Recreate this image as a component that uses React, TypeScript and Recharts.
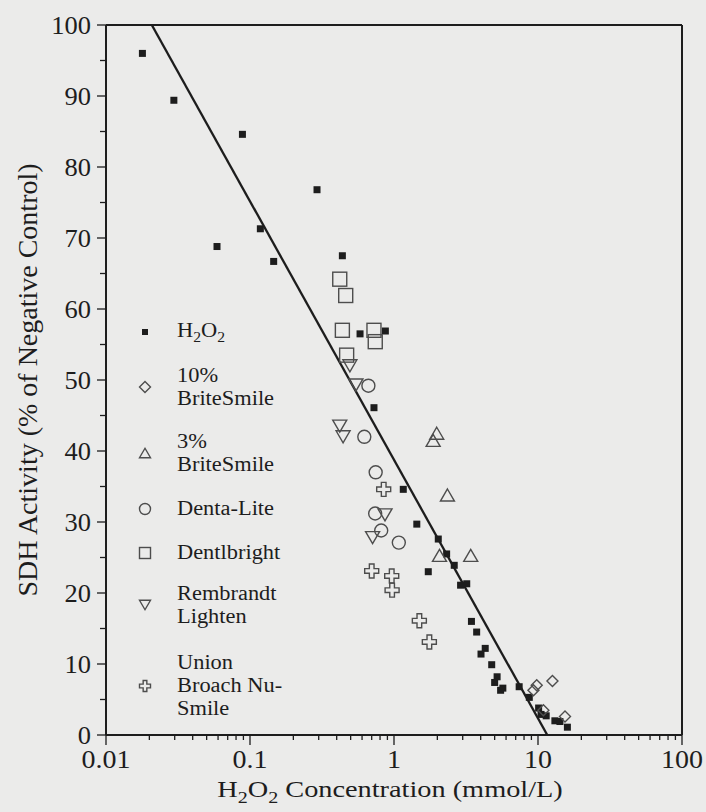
import { ScatterChart, Scatter, XAxis, YAxis, ReferenceLine, Legend } from "recharts"

// H2O2 concentration (mmol/L) vs SDH activity (% of negative control)
const h2o2 = [
  { x: 0.0179, y: 96.0 }, { x: 0.0296, y: 89.4 }, { x: 0.0886, y: 84.6 }, { x: 0.292, y: 76.8 },
  { x: 0.118, y: 71.3 }, { x: 0.059, y: 68.8 }, { x: 0.146, y: 66.7 }, { x: 0.438, y: 67.5 },
  { x: 0.581, y: 56.5 }, { x: 0.871, y: 56.9 }, { x: 0.726, y: 46.1 }, { x: 1.16, y: 34.6 },
  { x: 1.44, y: 29.7 }, { x: 2.03, y: 27.6 }, { x: 1.73, y: 23.0 }, { x: 2.32, y: 25.5 },
  { x: 2.62, y: 23.9 }, { x: 2.9, y: 21.1 }, { x: 3.2, y: 21.3 }, { x: 3.45, y: 16.0 },
  { x: 3.75, y: 14.5 }, { x: 4.3, y: 12.2 }, { x: 4.02, y: 11.4 }, { x: 4.77, y: 9.9 },
  { x: 5.2, y: 8.2 }, { x: 5.0, y: 7.4 }, { x: 5.7, y: 6.6 }, { x: 5.5, y: 6.3 },
  { x: 7.4, y: 6.8 }, { x: 8.7, y: 5.3 }, { x: 10.1, y: 3.8 }, { x: 10.5, y: 2.9 },
  { x: 11.4, y: 2.7 }, { x: 13.1, y: 2.0 }, { x: 14.2, y: 1.9 }, { x: 16.0, y: 1.1 },
]
const brite10 = [
  { x: 9.3, y: 6.3 }, { x: 9.8, y: 7.0 }, { x: 12.6, y: 7.6 }, { x: 10.9, y: 3.5 }, { x: 15.4, y: 2.6 },
]
const brite3 = [
  { x: 1.87, y: 41.5 }, { x: 1.98, y: 42.5 }, { x: 2.35, y: 33.8 }, { x: 2.07, y: 25.3 }, { x: 3.41, y: 25.3 },
]
const dentaLite = [
  { x: 0.664, y: 49.2 }, { x: 0.622, y: 42.0 }, { x: 0.746, y: 37.0 }, { x: 0.74, y: 31.2 },
  { x: 0.815, y: 28.8 }, { x: 1.08, y: 27.1 },
]
const dentlbright = [
  { x: 0.42, y: 64.2 }, { x: 0.462, y: 61.9 }, { x: 0.438, y: 57.0 }, { x: 0.726, y: 57.0 },
  { x: 0.741, y: 55.4 }, { x: 0.469, y: 53.5 },
]
const rembrandt = [
  { x: 0.494, y: 52.0 }, { x: 0.544, y: 49.3 }, { x: 0.42, y: 43.5 }, { x: 0.443, y: 42.0 },
  { x: 0.866, y: 31.0 }, { x: 0.71, y: 27.8 },
]
const unionBroach = [
  { x: 0.848, y: 34.6 }, { x: 0.7, y: 23.1 }, { x: 0.964, y: 22.4 }, { x: 0.97, y: 20.4 },
  { x: 1.5, y: 16.1 }, { x: 1.76, y: 13.1 },
]
// regression line end points
const fitLine = [{ x: 0.0208, y: 100 }, { x: 11.6, y: 0 }]

const xMajorTicks = [0.01, 0.1, 1, 10, 100]
const xMinorSteps = [2, 3, 4, 5, 6, 7, 8, 9]
const xTicks = [
  ...xMajorTicks,
  ...xMajorTicks.slice(0, 4).flatMap((d) => xMinorSteps.map((m) => +(d * m).toPrecision(3))),
]
const yTicks = [0, 5, 10, 15, 20, 25, 30, 35, 40, 45, 50, 55, 60, 65, 70, 75, 80, 85, 90, 95, 100]

const legendItems = [
  { kind: "fsquare", lines: ["H2O2"] },
  { kind: "diamond", lines: ["10%", "BriteSmile"] },
  { kind: "up", lines: ["3%", "BriteSmile"] },
  { kind: "circle", lines: ["Denta-Lite"] },
  { kind: "square", lines: ["Dentlbright"] },
  { kind: "down", lines: ["Rembrandt", "Lighten"] },
  { kind: "cross", lines: ["Union", "Broach Nu-", "Smile"] },
]
const legendTops = [0, 45, 111, 178, 222, 263, 332]

const INK = "#1d1d1d"
const OPEN = "#4d4d4d"
const FONT = "'Liberation Serif', 'Times New Roman', serif"

function marker(kind: string, cx: number, cy: number, s: number) {
  const h = s / 2
  const sw = 1.4
  switch (kind) {
    case "fsquare":
      return <rect x={cx - h} y={cy - h} width={s} height={s} fill={INK} />
    case "diamond":
      return <path d={`M${cx},${cy - h}L${cx + h},${cy}L${cx},${cy + h}L${cx - h},${cy}Z`} fill="none" stroke={OPEN} strokeWidth={sw} />
    case "up": {
      const t = s * 0.43
      return <path d={`M${cx},${cy - t}L${cx + h},${cy + t}L${cx - h},${cy + t}Z`} fill="none" stroke={OPEN} strokeWidth={sw} />
    }
    case "down": {
      const t = s * 0.43
      return <path d={`M${cx - h},${cy - t}L${cx + h},${cy - t}L${cx},${cy + t}Z`} fill="none" stroke={OPEN} strokeWidth={sw} />
    }
    case "circle":
      return <circle cx={cx} cy={cy} r={h} fill="none" stroke={OPEN} strokeWidth={sw} />
    case "square":
      return <rect x={cx - h} y={cy - h} width={s} height={s} fill="none" stroke={OPEN} strokeWidth={sw} />
    case "cross": {
      const a = s / 6
      const d = `M${cx - a},${cy - h}H${cx + a}V${cy - a}H${cx + h}V${cy + a}H${cx + a}V${cy + h}H${cx - a}V${cy + a}H${cx - h}V${cy - a}H${cx - a}Z`
      return <path d={d} fill="none" stroke={OPEN} strokeWidth={sw} />
    }
  }
  return <g />
}

const shapeOf = (kind: string, s: number) => (p: any) => marker(kind, p.cx, p.cy, s)

function XTick({ x, y, payload }: any) {
  const major = xMajorTicks.includes(payload.value)
  return (
    <g>
      <line x1={x} x2={x} y1={y} y2={y + (major ? 10 : 5)} stroke={INK} strokeWidth={1.3} />
      {major && (
        <text transform={`translate(${x},${y + 33}) scale(1.12,1)`} textAnchor="middle" fontFamily={FONT} fontSize={25} fill={INK}>
          {payload.value}
        </text>
      )}
    </g>
  )
}

function YTick({ x, y, payload }: any) {
  const major = payload.value % 10 === 0
  return (
    <g>
      <line x1={x} x2={x - (major ? 9 : 6)} y1={y} y2={y} stroke={INK} strokeWidth={1.3} />
      {major && (
        <text transform={`translate(${x - 15},${y}) scale(1.06,1)`} dy="0.35em" textAnchor="end" fontFamily={FONT} fontSize={25} fill={INK}>
          {payload.value}
        </text>
      )}
    </g>
  )
}

function XTitle({ viewBox }: any) {
  const cx = viewBox.x + viewBox.width / 2 - 4
  return (
    <text transform={`translate(${cx},${viewBox.y + 62}) scale(1.18,1)`} textAnchor="middle" fontFamily={FONT} fontSize={24} fill={INK}>
      H<tspan dy={6} fontSize={17}>2</tspan>
      <tspan dy={-6}>O</tspan>
      <tspan dy={6} fontSize={17}>2</tspan>
      <tspan dy={-6}> Concentration (mmol/L)</tspan>
    </text>
  )
}

function YTitle({ viewBox }: any) {
  const x = 37
  const y = viewBox.y + viewBox.height / 2
  return (
    <text x={x} y={y} transform={`rotate(-90 ${x} ${y})`} textAnchor="middle" fontFamily={FONT} fontSize={28} fill={INK}>
      SDH Activity (% of Negative Control)
    </text>
  )
}

function LegendLine({ text }: { text: string }) {
  if (text === "H2O2") {
    const sub = { fontSize: 14, position: "relative" as const, top: 5 }
    return (
      <div>
        H<span style={sub}>2</span>O<span style={sub}>2</span>
      </div>
    )
  }
  return <div>{text}</div>
}

function renderLegend() {
  return (
    <div style={{ position: "relative", fontFamily: FONT, fontSize: 20, lineHeight: "23px", color: INK }}>
      {legendItems.map((item, i) => (
        <div key={item.kind} style={{ position: "absolute", top: legendTops[i], left: 0, display: "flex", alignItems: "center", whiteSpace: "nowrap" }}>
          <svg width={20} height={20} style={{ marginRight: 22 }}>
            {marker(item.kind, 10, 10, item.kind === "fsquare" ? 6 : 11)}
          </svg>
          <div style={{ transform: "scaleX(1.12)", transformOrigin: "left center" }}>
            {item.lines.map((l) => (
              <LegendLine key={l} text={l} />
            ))}
          </div>
        </div>
      ))}
    </div>
  )
}

export default function App() {
  return (
    <div style={{ position: "absolute", left: 0, top: 0, width: 706, height: 812, background: "#ebebea" }}>
      <ScatterChart width={706} height={812} margin={{ top: 25, right: 24, bottom: 0, left: 0 }}>
        <XAxis
          dataKey="x"
          type="number"
          scale="log"
          domain={[0.01, 100]}
          allowDataOverflow
          ticks={xTicks}
          interval={0}
          height={77}
          tickSize={0}
          tickMargin={0}
          tickLine={false}
          tick={<XTick />}
          axisLine={{ stroke: INK, strokeWidth: 2 }}
          label={<XTitle />}
        />
        <YAxis
          dataKey="y"
          type="number"
          domain={[0, 100]}
          allowDataOverflow
          ticks={yTicks}
          interval={0}
          width={106}
          tickSize={0}
          tickMargin={0}
          tickLine={false}
          tick={<YTick />}
          axisLine={{ stroke: INK, strokeWidth: 2 }}
          label={<YTitle />}
        />
        <ReferenceLine y={100} stroke={INK} strokeWidth={2} />
        <ReferenceLine x={100} stroke={INK} strokeWidth={2} />
        <Legend
          layout="vertical"
          align="center"
          verticalAlign="middle"
          content={renderLegend}
          wrapperStyle={{ left: 135, top: 319, width: 200, height: 400 }}
        />
        <Scatter name="fit" data={fitLine} line={{ stroke: INK, strokeWidth: 2.3 }} shape={() => <g />} legendType="none" isAnimationActive={false} />
        <Scatter name="H2O2" data={h2o2} shape={shapeOf("fsquare", 7)} isAnimationActive={false} />
        <Scatter name="10% BriteSmile" data={brite10} shape={shapeOf("diamond", 11)} isAnimationActive={false} />
        <Scatter name="3% BriteSmile" data={brite3} shape={shapeOf("up", 14)} isAnimationActive={false} />
        <Scatter name="Denta-Lite" data={dentaLite} shape={shapeOf("circle", 13)} isAnimationActive={false} />
        <Scatter name="Dentlbright" data={dentlbright} shape={shapeOf("square", 14)} isAnimationActive={false} />
        <Scatter name="Rembrandt Lighten" data={rembrandt} shape={shapeOf("down", 14)} isAnimationActive={false} />
        <Scatter name="Union Broach Nu-Smile" data={unionBroach} shape={shapeOf("cross", 14)} isAnimationActive={false} />
      </ScatterChart>
    </div>
  )
}
